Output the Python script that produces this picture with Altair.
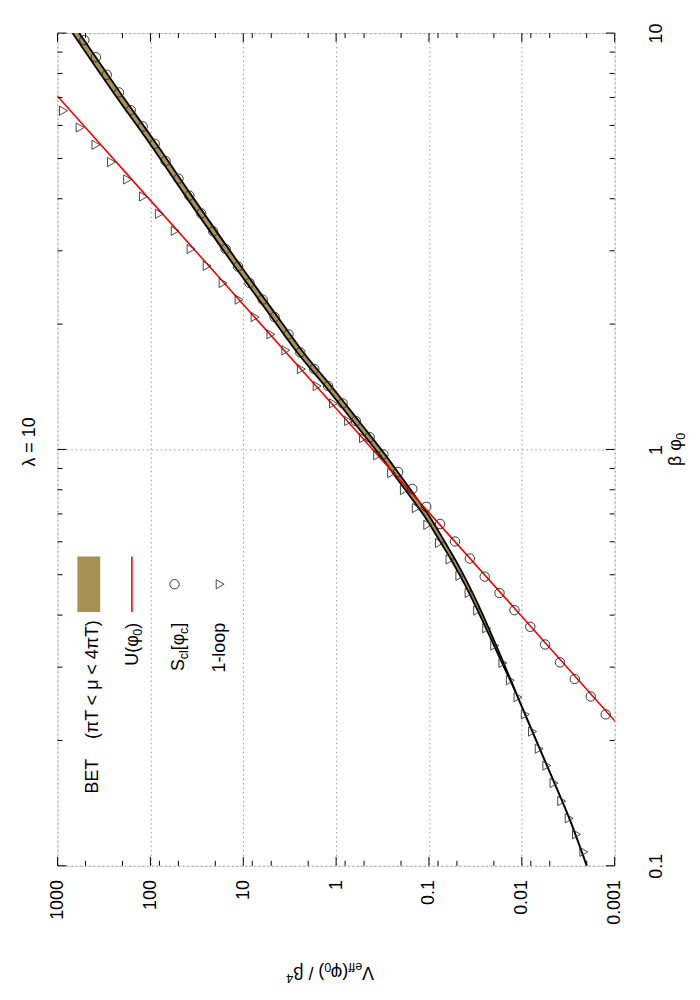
import math
import altair as alt
import pandas as pd

# ---------------- data ----------------
# S_cl[phi_c] points (circles): beta*phi0 and V_eff/beta^4
circ_phi = [9.62, 8.75, 7.94, 7.20, 6.53, 5.97, 5.42, 4.93, 4.47, 4.07,
            3.69, 3.34, 3.03, 2.75, 2.51, 2.29, 2.08, 1.89, 1.71, 1.56,
            1.42, 1.29, 1.17, 1.07, 0.973, 0.883, 0.804, 0.728, 0.662, 0.601,
            0.547, 0.495, 0.452, 0.411, 0.375, 0.340, 0.308, 0.281, 0.255, 0.231]
circ_v = [515, 386, 295, 218, 163, 121, 89.9, 68.7, 49.9, 38.1,
          28.4, 21.1, 15.5, 11.4, 8.57, 6.18, 4.60, 3.26, 2.43, 1.72,
          1.22, 0.851, 0.614, 0.435, 0.310, 0.215, 0.151, 0.107, 0.0759, 0.0524,
          0.0363, 0.0251, 0.0174, 0.0120, 0.00811, 0.00561, 0.00388, 0.00269, 0.00181, 0.00125]

# 1-loop points (triangles)
tri_phi = [6.51, 5.93, 5.39, 4.90, 4.45, 4.05, 3.68, 3.35, 3.03, 2.76,
           2.51, 2.29, 2.08, 1.89, 1.73, 1.56, 1.42, 1.29, 1.17, 1.065,
           0.968, 0.877, 0.799, 0.723, 0.659, 0.596, 0.544, 0.497, 0.452, 0.410,
           0.372, 0.338, 0.307, 0.279, 0.254, 0.231, 0.210, 0.191, 0.174, 0.158,
           0.143, 0.130, 0.119, 0.108]
tri_v = [863, 572, 386, 263, 176, 119, 80.2, 54.1, 36.5, 24.5,
         16.5, 11.1, 7.46, 5.04, 3.48, 2.37, 1.60, 1.07, 0.734, 0.507,
         0.357, 0.253, 0.184, 0.137, 0.103, 0.0773, 0.0594, 0.0465, 0.0370, 0.0299,
         0.0239, 0.0196, 0.0160, 0.0133, 0.0110, 0.00918, 0.00767, 0.00650, 0.00538, 0.00450,
         0.00372, 0.00309, 0.00258, 0.00215]

# BET band (pi T < mu < 4 pi T): lower / upper edge of V at each beta*phi0
band_phi = [10.0, 7.20, 5.42, 4.07, 2.75, 2.08, 1.71, 1.42, 1.17, 0.973,
            0.858, 0.769, 0.678, 0.600, 0.545, 0.480, 0.421, 0.360, 0.309, 0.262]
band_lo = [584.5, 212.6, 86.3, 35.9, 10.54, 4.254, 2.252, 1.131, 0.570, 0.298,
           0.198, 0.1388, 0.0937, 0.0677, 0.0525, 0.0387, 0.0291, 0.0213, 0.01587, 0.0117]
band_hi = [689.9, 251.0, 101.3, 42.2, 12.33, 4.974, 2.622, 1.316, 0.661, 0.344,
           0.227, 0.1579, 0.1056, 0.0756, 0.0581, 0.0424, 0.0316, 0.0227, 0.01654, 0.0117]

# continuation of the BET curve below the band
tail_phi = [0.262, 0.211, 0.157, 0.130, 0.100]
tail_v = [0.0117, 0.00776, 0.00440, 0.00308, 0.00200]

# U(phi0) red line
red_phi = [7.5, 7.05, 3.965, 2.23, 1.254, 0.705, 0.397, 0.223, 0.2]
red_v = [1318, 1000, 100, 10, 1, 0.1, 0.01, 0.001, 0.00067]

# axis ticks
v_ticks = [0.001, 0.01, 0.1, 1, 10, 100, 1000]
v_minor = [500, 200, 80, 50, 20, 8, 5, 2, 0.8, 0.5, 0.2, 0.08, 0.05, 0.02,
           0.008, 0.005, 0.002]
phi_ticks = [0.1, 1, 10]
phi_minor = [0.2, 0.3, 0.4, 0.5, 0.6, 0.7, 0.8, 0.9, 2, 3, 4, 5, 6, 7, 8, 9]

# ---------------- layout / style ----------------
W, H = 562, 840
FONT = "Liberation Sans"
FS = 18
BROWN = "#a88f52"
RED = "#ff0000"
NB = "\u00a0"

xscale = alt.Scale(type="log", domain=[0.001, 1000], reverse=True)
yscale = alt.Scale(type="log", domain=[0.1, 10])

xaxis = alt.Axis(values=v_ticks, format="~g", orient="bottom", labelAngle=270,
                 labelAlign="right", labelBaseline="middle", labelPadding=14,
                 ticks=False, tickSize=0, domain=False, grid=True, gridDash=[1.5, 3],
                 gridColor="#9a9a9a", gridWidth=1, labelFont=FONT, labelFontSize=FS,
                 labelColor="black", labelFlush=False, labelOverlap=False, title=None)
yaxis = alt.Axis(values=phi_ticks, format="~g", orient="right", labelAngle=270,
                 labelAlign="center", labelBaseline="top", labelPadding=33,
                 ticks=False, tickSize=0, domain=False, grid=True, gridDash=[1.5, 3],
                 gridColor="#9a9a9a", gridWidth=1, labelFont=FONT, labelFontSize=FS,
                 labelColor="black", labelFlush=False, labelOverlap=False, title=None)


def X(field):
    return alt.X(field, type="quantitative", scale=xscale, axis=xaxis)


def Y(field):
    return alt.Y(field, type="quantitative", scale=yscale, axis=yaxis)


circ_df = pd.DataFrame({"phi": circ_phi, "v": circ_v})
tri_df = pd.DataFrame({"phi": tri_phi, "v": tri_v})
band_df = pd.DataFrame({"phi": band_phi, "lo": band_lo, "hi": band_hi})
tail_df = pd.DataFrame({"phi": tail_phi, "v": tail_v})
red_df = pd.DataFrame({"phi": red_phi, "v": red_v})
vmaj_df = pd.DataFrame({"v": v_ticks})
vmin_df = pd.DataFrame({"v": v_minor})
pmaj_df = pd.DataFrame({"phi": phi_ticks})
pmin_df = pd.DataFrame({"phi": phi_minor})
one = pd.DataFrame({"k": [0]})

layers = []

# BET band
layers.append(alt.Chart(band_df).mark_area(orient="horizontal", color=BROWN, opacity=1,
                                            clip=True, interpolate="monotone")
              .encode(y=Y("phi"), x=X("lo"), x2="hi"))
for col in ["lo", "hi"]:
    layers.append(alt.Chart(band_df).mark_line(color="black", strokeWidth=1.8, clip=True,
                                                interpolate="monotone")
                  .encode(y=Y("phi"), x=X(col), order=alt.Order("phi:Q")))
layers.append(alt.Chart(tail_df).mark_line(color="black", strokeWidth=2, clip=True,
                                            interpolate="monotone")
              .encode(y=Y("phi"), x=X("v"), order=alt.Order("phi:Q")))

# U(phi0)
layers.append(alt.Chart(red_df).mark_line(color=RED, strokeWidth=1.6, clip=True)
              .encode(y=Y("phi"), x=X("v"), order=alt.Order("phi:Q")))

# points
layers.append(alt.Chart(circ_df).mark_point(shape="circle", size=90, filled=False,
                                             color="#222222", strokeWidth=0.9, opacity=1)
              .encode(y=Y("phi"), x=X("v")))
layers.append(alt.Chart(tri_df).mark_point(shape="triangle-right", size=85, filled=False,
                                            color="#333333", strokeWidth=0.9, opacity=1)
              .encode(y=Y("phi"), x=X("v")))

# inward ticks on all four sides
MAJ, MIN = 9, 5
for df, ln in [(vmaj_df, MAJ), (vmin_df, MIN)]:
    layers.append(alt.Chart(df).mark_rule(color="black", strokeWidth=1)
                  .encode(x=X("v"), y=alt.value(H), y2=alt.value(H - ln)))
    layers.append(alt.Chart(df).mark_rule(color="black", strokeWidth=1)
                  .encode(x=X("v"), y=alt.value(0), y2=alt.value(ln)))
for df, ln in [(pmaj_df, MAJ), (pmin_df, MIN)]:
    layers.append(alt.Chart(df).mark_rule(color="black", strokeWidth=1)
                  .encode(y=Y("phi"), x=alt.value(0), x2=alt.value(ln)))
    layers.append(alt.Chart(df).mark_rule(color="black", strokeWidth=1)
                  .encode(y=Y("phi"), x=alt.value(W - ln), x2=alt.value(W)))

# ---------------- rich (rotated) text helper ----------------
CW = {'V': .667, 'e': .556, 'f': .278, '(': .333, ')': .333, 'φ': .62, ' ': .278,
      NB: .278, '/': .278, 'β': .575, '4': .556, '0': .556, '1': .556, 'U': .722,
      'S': .667, 'c': .5, 'l': .222, '[': .278, ']': .278, '-': .333, 'o': .556,
      'p': .556, 'B': .667, 'E': .667, 'T': .611, 'π': .6, '<': .584, 'μ': .576,
      'λ': .55, '=': .584}


def tw(s, size):
    return sum(CW.get(c, .56) for c in s) * size


def rich(pieces, ax, ay, angle, size, frac):
    th = math.radians(angle)
    ux, uy = math.cos(th), math.sin(th)
    dx, dy = -math.sin(th), math.cos(th)

    def sz(kind):
        return size if kind == "n" else size * 0.7
    total = sum(tw(t, sz(k)) for t, k in pieces)
    ox = ax - ux * total * frac + dx * 0.35 * size
    oy = ay - uy * total * frac + dy * 0.35 * size
    out = []
    cum = 0.0
    for t, k in pieces:
        s = sz(k)
        shift = 0.0 if k == "n" else (0.22 * size if k == "sub" else -0.42 * size)
        px = ox + ux * cum + dx * shift
        py = oy + uy * cum + dy * shift
        out.append(alt.Chart(one).mark_text(text=t, angle=angle, align="left",
                                            baseline="alphabetic", font=FONT,
                                            fontSize=s, color="black")
                   .encode(x=alt.value(px), y=alt.value(py)))
        cum += tw(t, s)
    return out


# axis titles and plot title
layers += rich([("V", "n"), ("eff", "sub"), ("(φ", "n"), ("0", "sub"), (") / β", "n"), ("4", "sup")],
               W / 2 - 6, 948, 180, FS, 0.5)
layers += rich([("β" + NB + "φ", "n"), ("0", "sub")], W + 61, H / 2, 270, FS, 0.5)
layers += rich([("λ = 10", "n")], -29, H / 2 - 8, 270, FS, 0.5)

# ---------------- legend (drawn rotated like the reference) ----------------
LEG_TOP, LEG_BOT = 528, 584
LEG_MID = (LEG_TOP + LEG_BOT) / 2
layers.append(alt.Chart(one).mark_rect(color=BROWN)
              .encode(x=alt.value(20), x2=alt.value(43), y=alt.value(LEG_TOP), y2=alt.value(LEG_BOT)))
layers.append(alt.Chart(one).mark_rule(color=RED, strokeWidth=1.6)
              .encode(x=alt.value(75), y=alt.value(LEG_TOP), y2=alt.value(LEG_BOT)))
layers.append(alt.Chart(one).mark_point(shape="circle", size=90, filled=False, color="#222222",
                                         strokeWidth=0.9, opacity=1)
              .encode(x=alt.value(118), y=alt.value(LEG_MID)))
layers.append(alt.Chart(one).mark_point(shape="triangle-right", size=85, filled=False,
                                         color="#333333", strokeWidth=0.9, opacity=1)
              .encode(x=alt.value(164), y=alt.value(LEG_MID)))
TEXT_END = 595
layers += rich([("BET" + NB * 4 + "(πT < μ < 4πT)", "n")], 34, TEXT_END, 270, FS, 1.0)
layers += rich([("U(φ", "n"), ("0", "sub"), (")", "n")], 75, TEXT_END, 270, FS, 1.0)
layers += rich([("S", "n"), ("cl", "sub"), ("[φ", "n"), ("c", "sub"), ("]", "n")], 121, TEXT_END, 270, FS, 1.0)
layers += rich([("1-loop", "n")], 163, TEXT_END, 270, FS, 1.0)

chart = (alt.layer(*layers)
         .properties(width=W, height=H,
                     autosize=alt.AutoSizeParams(type="none"),
                     padding={"left": 50, "top": 21, "right": 78, "bottom": 120})
         .configure_view(stroke="black", strokeWidth=1.5)
         .configure(background="white"))

chart.save("out.html", embed_options={"renderer": "svg", "actions": False})
